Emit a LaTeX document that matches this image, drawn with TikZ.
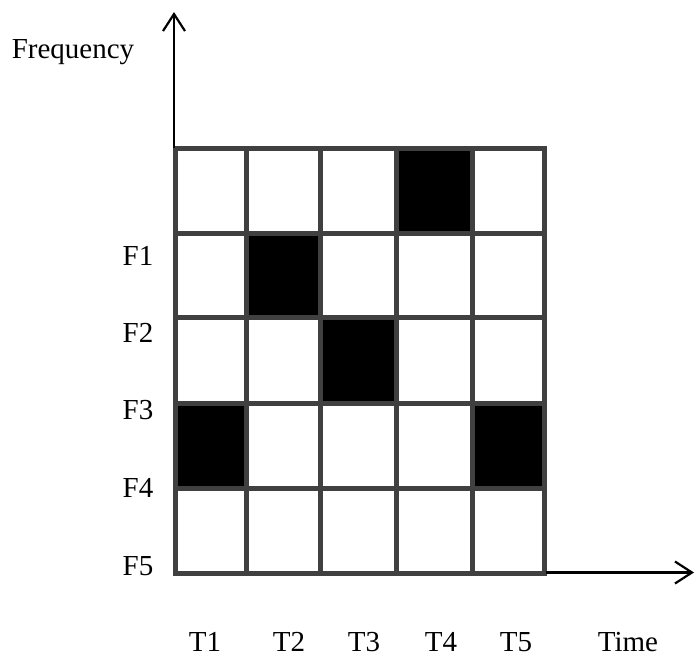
\documentclass[tikz,border=0pt]{standalone}
\usepackage{fontspec}
\setmainfont{Liberation Serif}
\usetikzlibrary{arrows.meta}
\tikzset{
  gridline/.style={draw=gridgray, line width=5pt, line cap=rect},
  cellfill/.style={fill=black},
  axis/.style={line width=2.2pt, -{Straight Barb[length=17pt,width=22pt,line width=2.2pt]}},
  lbl/.style={font=\fontsize{29}{34}\selectfont, anchor=base, inner sep=0pt}
}
\definecolor{gridgray}{HTML}{404040}
\begin{document}
\begin{tikzpicture}[x=1pt,y=-1pt]
\useasboundingbox (0,0) rectangle (696,657);
\def\xa{175}\def\xb{246}\def\xc{320}\def\xd{396}\def\xe{472}\def\xf{544}
\def\ya{148}\def\yb{233}\def\yc{317}\def\yd{403}\def\ye{488}\def\yf{573}
% black cells
\fill[cellfill] (\xd,\ya) rectangle (\xe,\yb);
\fill[cellfill] (\xb,\yb) rectangle (\xc,\yc);
\fill[cellfill] (\xc,\yc) rectangle (\xd,\yd);
\fill[cellfill] (\xa,\yd) rectangle (\xb,\ye);
\fill[cellfill] (\xe,\yd) rectangle (\xf,\ye);
% grid
\foreach \x in {\xa,\xb,\xc,\xd,\xe,\xf} \draw[gridline] (\x,\ya) -- (\x,\yf);
\foreach \y in {\ya,\yb,\yc,\yd,\ye,\yf} \draw[gridline] (\xa,\y) -- (\xf,\y);
% axes
\coordinate (vstart) at (174,148);
\coordinate (vend) at (174,12);
\coordinate (hstart) at (546,572.5);
\coordinate (hend) at (694,572.5);
\draw[axis] (vstart) -- (vend);
\draw[axis] (hstart) -- (hend);
% labels
\node[lbl] (freq) at (73,58) {Frequency};
\node[lbl] (f1) at (138,265) {F1};
\node[lbl] (f2) at (138,342) {F2};
\node[lbl] (f3) at (138,419) {F3};
\node[lbl] (f4) at (138,497) {F4};
\node[lbl] (f5) at (138,575) {F5};
\node[lbl] (t1) at (205,651) {T1};
\node[lbl] (t2) at (289,651) {T2};
\node[lbl] (t3) at (364,651) {T3};
\node[lbl] (t4) at (441,651) {T4};
\node[lbl] (t5) at (516,651) {T5};
\node[lbl] (time) at (628,651) {Time};
\end{tikzpicture}
\end{document}
